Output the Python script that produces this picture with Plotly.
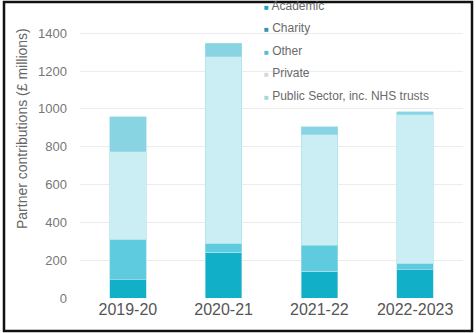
import plotly.graph_objects as go

years = ["2019-20", "2020-21", "2021-22", "2022-2023"]
academic = [97, 241, 141, 150]
charity = [0, 0, 0, 0]
other = [211, 46, 139, 31]
private = [466, 989, 583, 787]
public = [185, 71, 44, 18]

series_names = ["Academic", "Charity", "Other", "Private", "Public Sector, inc. NHS trusts"]
series_values = [academic, charity, other, private, public]
bar_colors = ["#12afc9", "#1f9db3", "#5fcbde", "#cbeef5", "#88d4e3"]
legend_colors = ["#1aa3bb", "#2a98ab", "#4fbfd5", "#d8d8d8", "#a6d6d8"]

fig = go.Figure()
for name, vals, col in zip(series_names, series_values, bar_colors):
    fig.add_trace(go.Bar(x=years, y=vals, name=name, marker_color=col,
                         marker_line_color="#a9e0ea", marker_line_width=0.6,
                         showlegend=False))

L, R, T, B = 80, 13, 0, 35
W, H = 476, 333
pw, ph = W - L - R, H - T - B

def px(x):
    return (x - L) / pw

def py(y):
    return (H - B - y) / ph

annotations = [dict(text="Partner contributions (£ millions)", textangle=-90,
                    xref="paper", yref="paper", x=px(22), y=py(129),
                    xanchor="center", yanchor="middle", showarrow=False,
                    font=dict(size=14, color="#666"))]
legend_y = [6, 28, 51, 73, 96]
for name, col, ly in zip(series_names, legend_colors, legend_y):
    annotations.append(dict(
        text=f"<span style='color:{col};font-size:8px'>■</span> {name}",
        xref="paper", yref="paper", x=px(262), y=py(ly),
        xanchor="left", yanchor="middle", showarrow=False,
        font=dict(size=12, color="#6a6a6a")))

fig.update_layout(
    width=W, height=H,
    margin=dict(l=L, r=R, t=T, b=B),
    barmode="stack", bargap=0.62,
    plot_bgcolor="white", paper_bgcolor="white",
    showlegend=False,
    font=dict(family="Liberation Sans, Arial, sans-serif", color="#666"),
    xaxis=dict(showgrid=False, showline=False, ticks="",
               tickfont=dict(size=16, color="#555")),
    yaxis=dict(range=[0, 1576], dtick=200, showgrid=True, gridcolor="#ececec",
               gridwidth=1, zeroline=False, ticks="", ticklabelstandoff=12,
               tickfont=dict(size=13, color="#777")),
    annotations=annotations,
    shapes=[dict(type="rect", xref="paper", yref="paper",
                 x0=px(4), x1=px(472), y0=py(331), y1=py(2),
                 line=dict(color="#111", width=2.5))],
)

fig.write_html("out.html", config={"displayModeBar": False},
               post_script="document.body.style.margin='0';document.body.style.padding='0';")
